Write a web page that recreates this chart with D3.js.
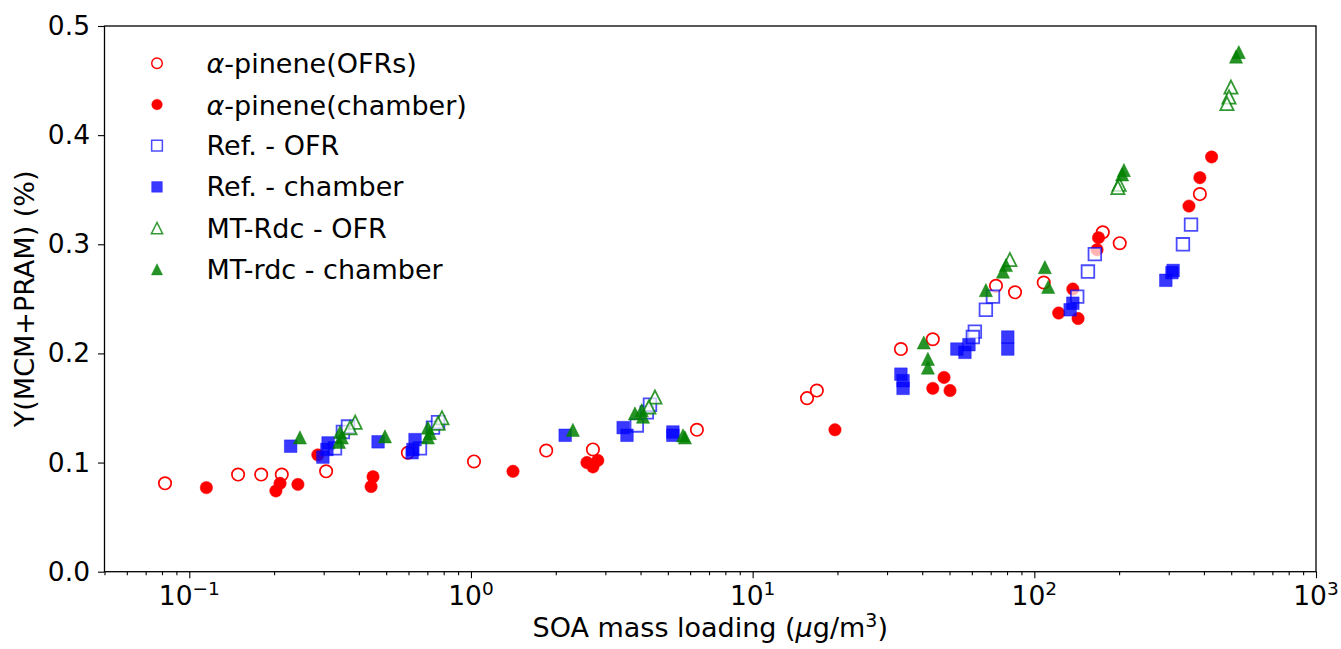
<!DOCTYPE html>
<html>
<head>
<meta charset="utf-8">
<script src="https://cdn.jsdelivr.net/npm/d3@7"></script>
<style>
  html, body { margin: 0; padding: 0; background: #fff; }
  svg { display: block; }
  text { font-family: "DejaVu Sans", sans-serif; fill: #000; }
</style>
</head>
<body>
<svg id="chart" width="1341" height="649"></svg>
<script>
// ---------------- data ----------------
const xTickExps = [-1, 0, 1, 2, 3];
const yTicks = [0.0, 0.1, 0.2, 0.3, 0.4, 0.5];

const seriesNames = ["α-pinene(OFRs)", "α-pinene(chamber)", "Ref. - OFR", "Ref. - chamber", "MT-Rdc - OFR", "MT-rdc - chamber"];

const pineneOfrX = [0.082, 0.149, 0.180, 0.213, 0.306, 0.597, 1.025, 1.85, 2.71, 6.34, 15.6, 16.9, 33.6, 43.6, 73.1, 85.4, 108, 175, 201, 387];
const pineneOfrY = [0.081, 0.089, 0.089, 0.089, 0.092, 0.109, 0.101, 0.111, 0.112, 0.130, 0.159, 0.166, 0.204, 0.213, 0.262, 0.256, 0.265, 0.311, 0.301, 0.346];

const pineneChX = [0.115, 0.210, 0.203, 0.243, 0.286, 0.449, 0.442, 1.41, 2.58, 2.82, 2.71, 19.6, 47.8, 43.6, 50.2, 137, 122, 143, 426, 387, 354, 169, 167];
const pineneChY = [0.077, 0.081, 0.074, 0.080, 0.107, 0.087, 0.078, 0.092, 0.100, 0.102, 0.096, 0.130, 0.178, 0.168, 0.166, 0.259, 0.237, 0.232, 0.380, 0.361, 0.335, 0.306, 0.295];

const refOfrX = [0.351, 0.366, 0.329, 0.659, 0.733, 0.764, 3.88, 4.21, 4.32, 61.5, 60.5, 67.3, 71.3, 142, 155, 164, 337, 360];
const refOfrY = [0.128, 0.133, 0.113, 0.113, 0.132, 0.137, 0.134, 0.146, 0.153, 0.220, 0.215, 0.240, 0.252, 0.252, 0.275, 0.291, 0.300, 0.318];

const refChX = [0.229, 0.311, 0.308, 0.298, 0.468, 0.633, 0.622, 0.618, 2.16, 3.47, 3.58, 5.21, 5.21, 33.6, 34.2, 34.2, 53.1, 56.7, 58.6, 80.5, 80.5, 134, 137, 311, 308, 293];
const refChY = [0.115, 0.118, 0.112, 0.105, 0.119, 0.121, 0.112, 0.109, 0.125, 0.132, 0.125, 0.128, 0.125, 0.181, 0.175, 0.168, 0.204, 0.201, 0.208, 0.215, 0.204, 0.240, 0.246, 0.276, 0.274, 0.267];

const mtOfrX = [0.388, 0.372, 0.789, 0.764, 4.50, 4.28, 81.9, 200, 198, 499, 491, 483];
const mtOfrY = [0.137, 0.132, 0.141, 0.136, 0.160, 0.151, 0.286, 0.355, 0.352, 0.444, 0.435, 0.429];

const mtChX = [0.247, 0.343, 0.348, 0.340, 0.495, 0.703, 0.715, 0.703, 2.30, 3.82, 4.04, 4.08, 5.75, 5.66, 40.5, 41.9, 41.9, 67.3, 77.4, 79.3, 109, 112, 208, 205, 532, 520];
const mtChY = [0.123, 0.128, 0.123, 0.119, 0.124, 0.132, 0.127, 0.123, 0.130, 0.145, 0.148, 0.142, 0.123, 0.125, 0.210, 0.195, 0.187, 0.258, 0.275, 0.281, 0.279, 0.261, 0.368, 0.364, 0.476, 0.472];

// ---------------- layout ----------------
const svg = d3.select("#chart");
const pLeft = 104.5, pRight = 1316, pTop = 26, pBottom = 571.7;
const x = d3.scaleLog().domain([0.05, 1000]).range([pLeft, pRight]);
const y = d3.scaleLinear().domain([0, 0.5]).range([pBottom, pTop]);
const FS = 26.5;
const FSL = 27;

// marker shapes
function shapePath(kind) {
  if (kind === "circle") return d3.symbol(d3.symbolCircle, Math.PI * 6.2 * 6.2)();
  if (kind === "square") return "M-6.3,-6.3H6.3V6.3H-6.3Z";
  return "M0,-6.6L-6.6,6.6L6.6,6.6Z";
}
const styles = [
  { kind: "circle", fill: "#fff", fillOp: 1, stroke: "#ff0000", strokeOp: 1, sw: 1.7 },
  { kind: "circle", fill: "#ff0000", fillOp: 1, stroke: "#ff0000", strokeOp: 1, sw: 0.5 },
  { kind: "square", fill: "#fff", fillOp: 0.7, stroke: "#0000ff", strokeOp: 0.7, sw: 1.8 },
  { kind: "square", fill: "#0000ff", fillOp: 0.78, stroke: "#0000ff", strokeOp: 0.78, sw: 0.5 },
  { kind: "triangle", fill: "#fff", fillOp: 0.7, stroke: "#008000", strokeOp: 0.8, sw: 1.8 },
  { kind: "triangle", fill: "#008000", fillOp: 0.85, stroke: "#008000", strokeOp: 0.85, sw: 0.5 }
];
const allSeries = [
  [pineneOfrX, pineneOfrY], [pineneChX, pineneChY],
  [refOfrX, refOfrY], [refChX, refChY],
  [mtOfrX, mtOfrY], [mtChX, mtChY]
];

// clip
svg.append("clipPath").attr("id", "clip").append("rect")
  .attr("x", pLeft).attr("y", pTop).attr("width", pRight - pLeft).attr("height", pBottom - pTop);

// axes
const xAxis = d3.axisBottom(x)
  .tickValues(xTickExps.map(e => Math.pow(10, e)))
  .tickSize(6.5).tickFormat("");
const minorVals = [];
for (let e = -2; e < 3; e++) for (let m = 2; m <= 9; m++) {
  const v = m * Math.pow(10, e);
  if (v >= 0.05 && v <= 1000) minorVals.push(v);
}
const xMinor = d3.axisBottom(x).tickValues(minorVals).tickSize(3.5).tickFormat("");

const gx = svg.append("g").attr("transform", `translate(0,${pBottom})`).call(xAxis);
const gxm = svg.append("g").attr("transform", `translate(0,${pBottom})`).call(xMinor);
[gx, gxm].forEach(g => {
  g.select(".domain").remove();
  g.selectAll("line").attr("stroke", "#000").attr("stroke-width", 1.1);
});

const yAxis = d3.axisLeft(y).tickValues(yTicks).tickSize(6.5).tickPadding(8)
  .tickFormat(d3.format(".1f"));
const gy = svg.append("g").attr("transform", `translate(${pLeft},0)`).call(yAxis);
gy.select(".domain").remove();
gy.selectAll("line").attr("stroke", "#000").attr("stroke-width", 1.1);
gy.selectAll("text").attr("font-size", FS).attr("font-family", "DejaVu Sans").attr("fill", "#000");

// x tick labels with superscripts
const xl = svg.append("g");
xTickExps.forEach(e => {
  const t = xl.append("text")
    .attr("x", x(Math.pow(10, e)))
    .attr("y", pBottom + 33.5)
    .attr("text-anchor", "middle")
    .attr("font-size", FS);
  t.append("tspan").text("10");
  t.append("tspan").attr("font-size", 18.5).attr("dy", -10.5).text(e < 0 ? "\u2212" + Math.abs(e) : String(e));
});

// points
const plot = svg.append("g").attr("clip-path", "url(#clip)");
allSeries.forEach((s, i) => {
  const st = styles[i];
  const pts = s[0].map((v, j) => [v, s[1][j]]);
  plot.append("g").selectAll("path").data(pts).enter().append("path")
    .attr("d", shapePath(st.kind))
    .attr("transform", d => `translate(${x(d[0])},${y(d[1])})`)
    .attr("fill", st.fill).attr("fill-opacity", st.fillOp)
    .attr("stroke", st.stroke).attr("stroke-opacity", st.strokeOp)
    .attr("stroke-width", st.sw);
});

// frame
svg.append("rect").attr("x", pLeft).attr("y", pTop)
  .attr("width", pRight - pLeft).attr("height", pBottom - pTop)
  .attr("fill", "none").attr("stroke", "#000").attr("stroke-width", 1.3);

// legend
const legY0 = 63.3, legDy = 41.2, legMx = 157, legTx = 206.5;
seriesNames.forEach((name, i) => {
  const st = styles[i];
  const yy = legY0 + i * legDy;
  svg.append("path").attr("d", shapePath(st.kind))
    .attr("transform", `translate(${legMx},${yy}) scale(0.85)`)
    .attr("fill", st.fill).attr("fill-opacity", st.fillOp)
    .attr("stroke", st.stroke).attr("stroke-opacity", st.strokeOp)
    .attr("stroke-width", st.sw);
  const t = svg.append("text").attr("x", legTx).attr("y", yy)
    .attr("dominant-baseline", "central").attr("font-size", FSL);
  if (name.startsWith("α")) {
    t.append("tspan").attr("font-style", "italic").text("α");
    t.append("tspan").text(name.slice(1));
  } else {
    t.text(name);
  }
});

// axis labels
const xlab = svg.append("text").attr("x", (pLeft + pRight) / 2).attr("y", 637)
  .attr("text-anchor", "middle").attr("font-size", FSL);
xlab.append("tspan").text("SOA mass loading (");
xlab.append("tspan").attr("font-style", "italic").text("μ");
xlab.append("tspan").text("g/m");
xlab.append("tspan").attr("font-size", 19).attr("dy", -10).text("3");
xlab.append("tspan").attr("dy", 10).text(")");

svg.append("text")
  .attr("transform", `translate(34,${(pTop + pBottom) / 2}) rotate(-90)`)
  .attr("text-anchor", "middle").attr("font-size", FSL)
  .text("Y(MCM+PRAM) (%)");
</script>
</body>
</html>
